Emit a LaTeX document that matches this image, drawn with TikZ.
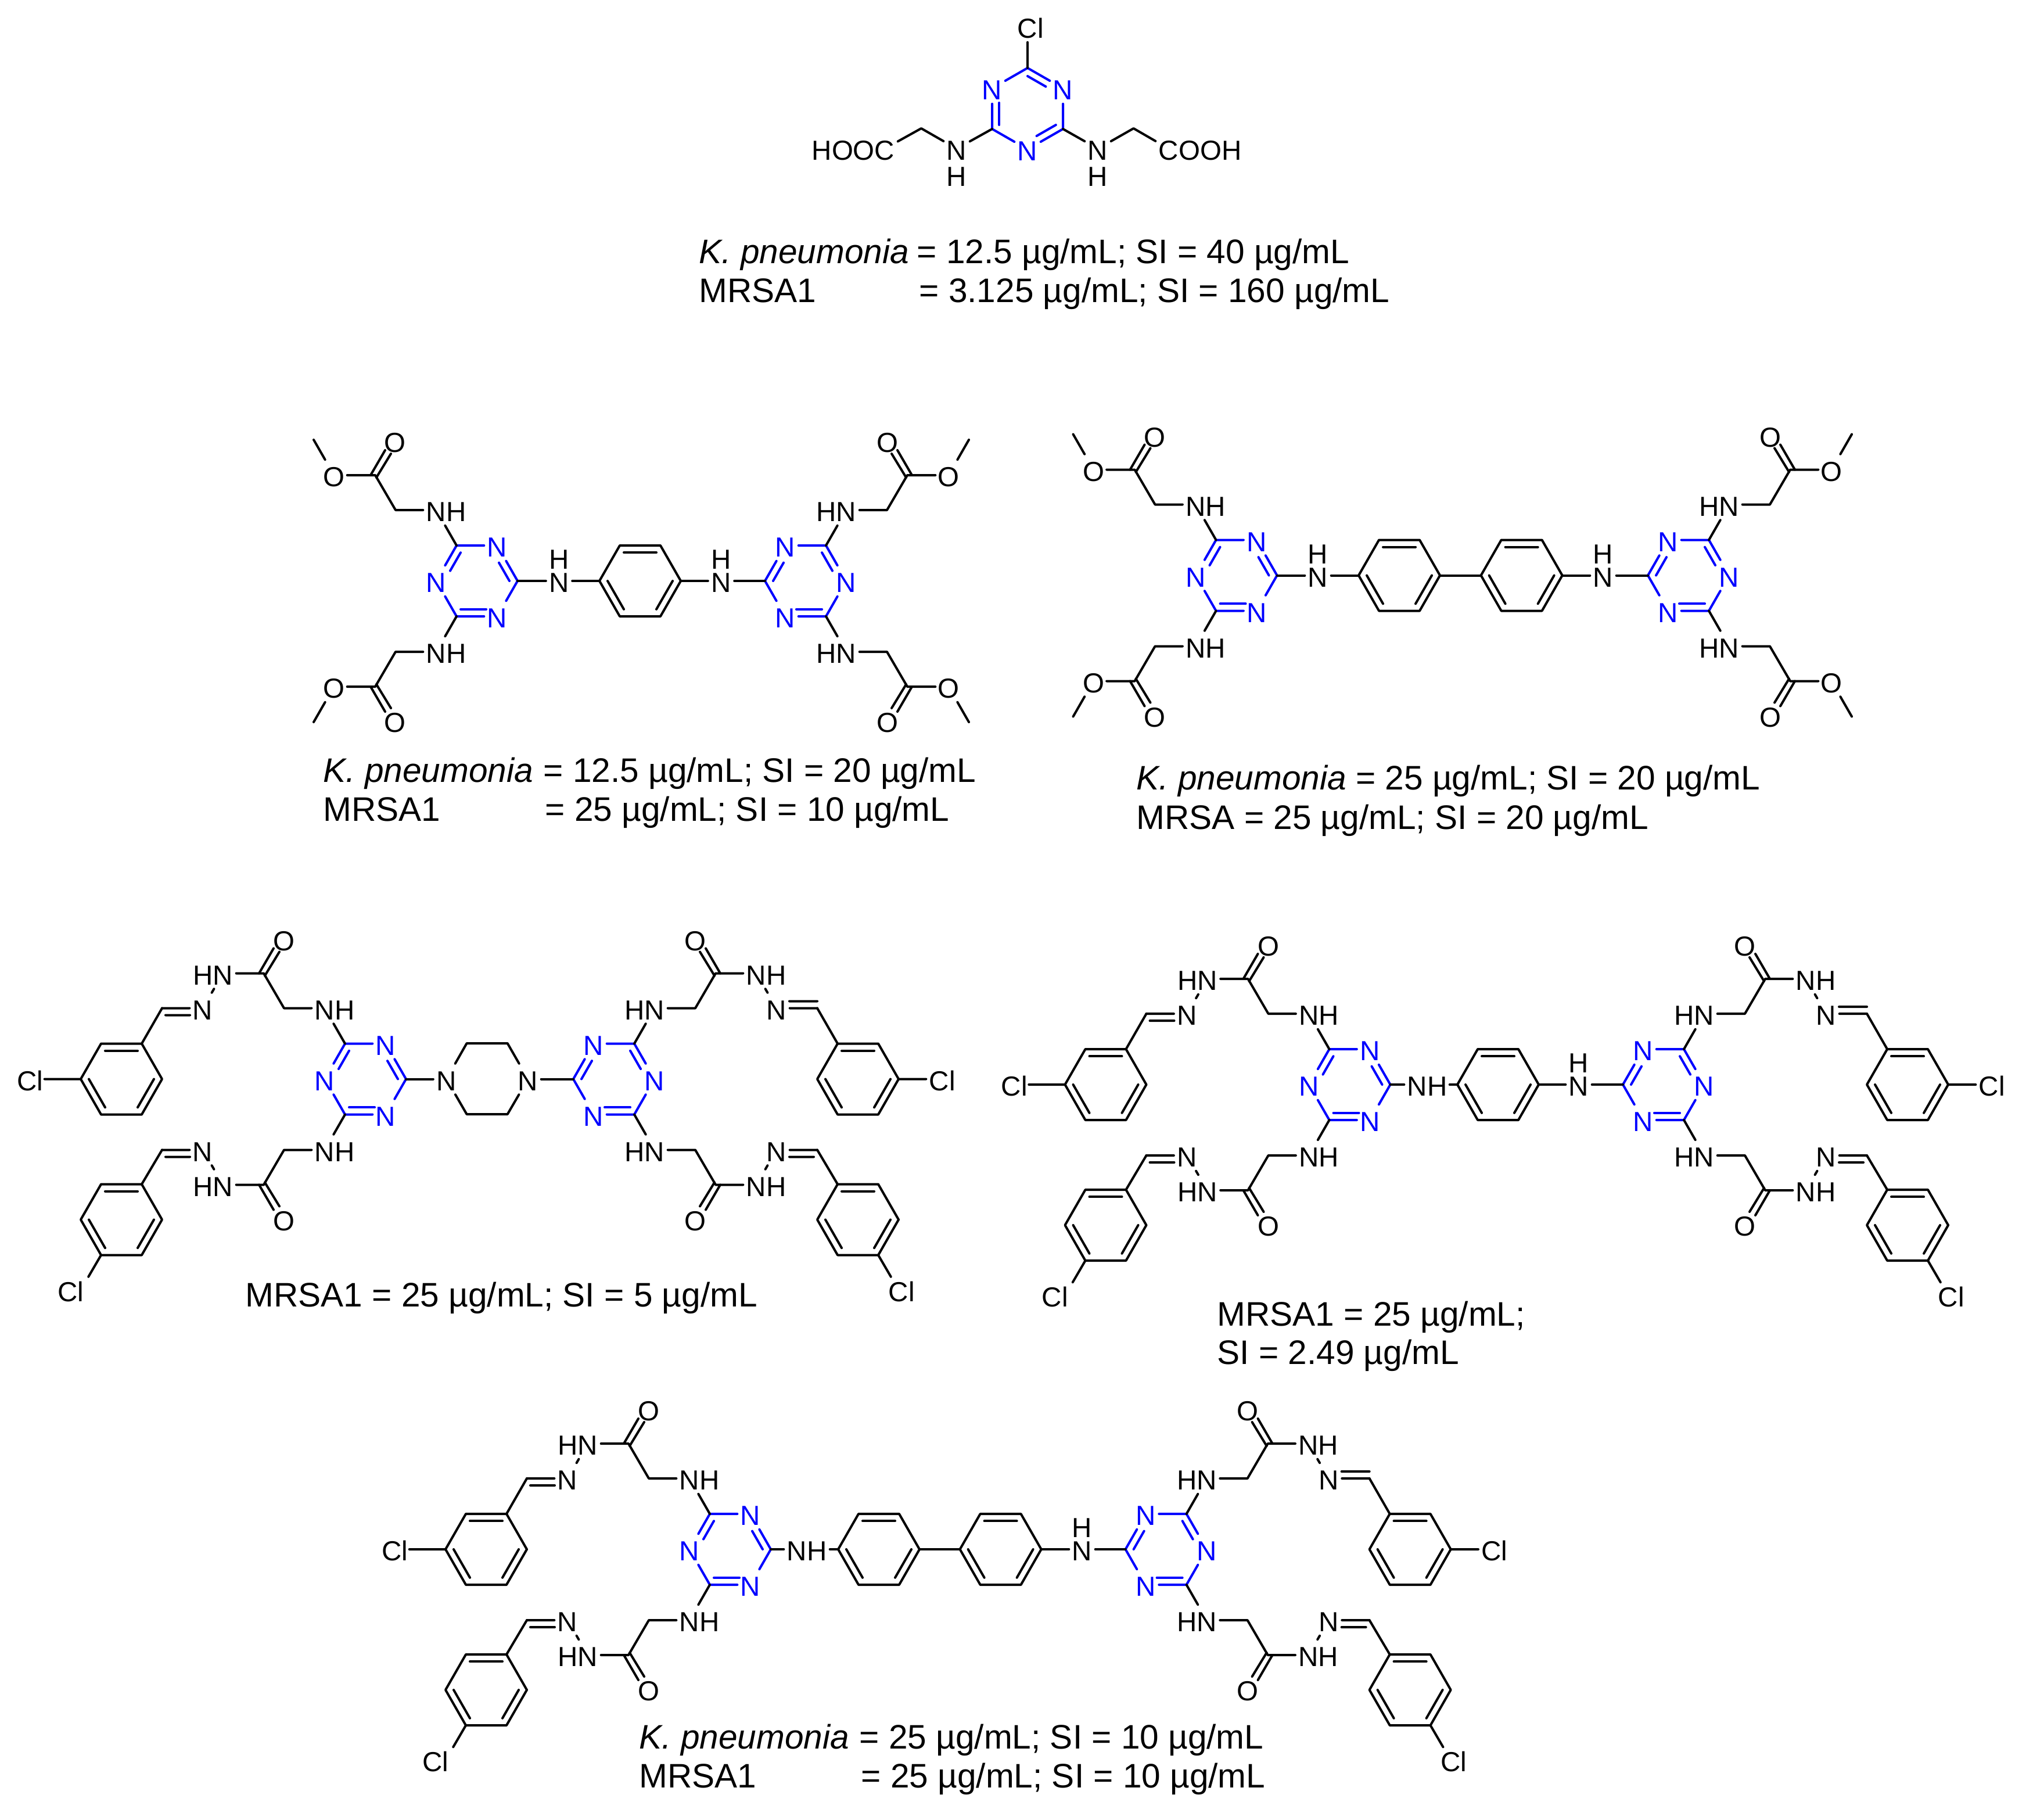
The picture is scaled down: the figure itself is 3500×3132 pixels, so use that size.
\documentclass[tikz,border=0pt]{standalone}
\usepackage{fontspec}
\setmainfont{Liberation Sans}
\usetikzlibrary{calc}
\definecolor{ringblue}{RGB}{0,0,255}
\newcommand\lab[3]{\setbox0\hbox{#2}\hbox to 0pt{\kern-.5\wd0\llap{#1}\copy0\rlap{#3}\hss}}
\newcommand\Nup{\lab{}{N}{}\hbox to 0pt{\hss\raise 11.38pt\hbox{H}\hss}}
\newcommand\Ndown{\lab{}{N}{}\hbox to 0pt{\hss\lower 12.8pt\hbox{H}\hss}}
\tikzset{
  bond/.style={line width=1.14pt,line cap=round,line join=round,black},
  rbond/.style={line width=1.14pt,line cap=round,line join=round,ringblue},
  atom/.style={rectangle,inner sep=0pt,minimum width=12.5pt,minimum height=14.8pt,text height=11.1pt,text depth=0pt,font=\fontsize{13.5}{16}\selectfont},
  batom/.style={atom,text=ringblue},
  clatom/.style={atom,minimum height=12.5pt},
  clsmall/.style={atom,minimum width=4pt},
  captext/.style={anchor=base west,inner sep=0pt,font=\fontsize{16.65}{20}\selectfont},
}
% benzene ring: prefix, centre x, centre y
\newcommand\benz[3]{\begin{scope}[shift={({#2},{#3})}]
  \coordinate (#1c) at (0,0);
  \coordinate (#11) at (-35,-61);\coordinate (#12) at (35,-61);\coordinate (#13) at (70,0);
  \coordinate (#14) at (35,61);\coordinate (#15) at (-35,61);\coordinate (#16) at (-70,0);
  \draw[bond] (#11)--(#12)--(#13)--(#14)--(#15)--(#16)--cycle;
  \draw[bond] ($(#1c)!.8!(#11)$)--($(#1c)!.8!(#12)$);
  \draw[bond] ($(#1c)!.8!(#16)$)--($(#1c)!.8!(#15)$);
  \draw[bond] ($(#1c)!.8!(#13)$)--($(#1c)!.8!(#14)$);
\end{scope}}
% triazine ring: prefix, centre x, centre y, x mirror
\newcommand\triaz[4]{\begin{scope}[shift={(#2,#3)},xscale=#4]
  \coordinate (#1c) at (0,0);
  \coordinate (#11) at (-35,-61);\node[batom] (#12) at (35,-61) {N};\coordinate (#13) at (70,0);
  \node[batom] (#14) at (35,61) {N};\coordinate (#15) at (-35,61);\node[batom] (#16) at (-70,0) {N};
  \draw[rbond] (#11)--(#12) (#13)--(#14) (#15)--(#16) (#11)--(#16) (#13)--(#12) (#15)--(#14);
  \draw[rbond,shorten >=5.7pt] ($(#1c)!.8!(#11)$)--($(#1c)!.8!(#16)$);
  \draw[rbond,shorten >=5.7pt] ($(#1c)!.8!(#13)$)--($(#1c)!.8!(#12)$);
  \draw[rbond,shorten >=3.4pt] ($(#1c)!.8!(#15)$)--($(#1c)!.8!(#14)$);
\end{scope}}
% glycine ester arm
\newcommand\estarm[5]{\begin{scope}[shift={(#1,#2)},xscale=#3,yscale=#4]
  \coordinate (r) at (-35,-61);
  \node[atom] (nh) at (-70,-122) {#5};
  \coordinate (c2) at (-140,-122);
  \coordinate (co) at (-175,-182);
  \node[atom] (ox) at (-141,-241) {O};
  \node[atom] (oe) at (-246,-182) {O};
  \coordinate (mt) at (-281,-243);
  \coordinate (k1) at (-183,-182);\coordinate (k2) at (-158,-225);
  \coordinate (k3) at (-173,-178);\coordinate (k4) at (-148,-219);
  \draw[bond] (r)--(nh)--(c2)--(co)--(oe)--(mt);
  \draw[bond] (k1)--(k2) (k3)--(k4);
\end{scope}}
\newcommand\estfour[3]{%
  \estarm{#1}{#3}{1}{1}{\lab{}{N}{H}}
  \estarm{#1}{#3}{1}{-1}{\lab{}{N}{H}}
  \estarm{#2}{#3}{-1}{1}{\lab{H}{N}{}}
  \estarm{#2}{#3}{-1}{-1}{\lab{H}{N}{}}
}
% hydrazone arm up to the CH carbon
\newcommand\hydcore[8]{\begin{scope}[shift={(#1,#2)},xscale=#3,yscale=#4]
  \coordinate (r) at (-35,-61);
  \node[atom] (nh) at (-70,-122) {#5};
  \coordinate (c2) at (-140,-122);
  \coordinate (co) at (-175,-182);
  \node[atom] (ox) at (-140,-241) {O};
  \node[atom] (hn) at (-245,-182) {#6};
  \node[atom] (nq) at (-280,-122) {N};
  \coordinate (ch2) at (-350,-122);
  \coordinate (k1) at (-183,-182);\coordinate (k2) at (-158,-225);
  \coordinate (k3) at (-173,-178);\coordinate (k4) at (-148,-219);
  \coordinate (i1) at ({-350+#8},{-122+#7});\coordinate (i2) at (-302,{-122+#7});
  \draw[bond] (r)--(nh)--(c2)--(co)--(hn)--(nq)--(ch2);
  \draw[bond] (k1)--(k2) (k3)--(k4) (i1)--(i2);
\end{scope}}
\newcommand\hydfour[3]{%
  \hydcore{#1}{#3}{1}{1}{\lab{}{N}{H}}{\lab{H}{N}{}}{12}{6}
  \benz{A}{#1-420}{#3}
  \node[clsmall] (cla) at ({#1-560},{#3}) {\lab{C}{l}{}};
  \draw[bond] (ch2)--(A2) (A6)--(cla);
  \hydcore{#1}{#3}{1}{-1}{\lab{}{N}{H}}{\lab{H}{N}{}}{-12}{6}
  \benz{A}{#1-420}{#3+242}
  \node[clatom] (cla) at ({#1-490},{#3+363}) {\lab{C}{l}{}};
  \draw[bond] (ch2)--(A2) (A5)--(cla);
  \hydcore{#2}{#3}{-1}{1}{\lab{H}{N}{}}{\lab{}{N}{H}}{-12}{0}
  \benz{A}{#2+420}{#3}
  \node[atom] (cla) at ({#2+560},{#3}) {\lab{}{C}{l}};
  \draw[bond] (ch2)--(A1) (A3)--(cla);
  \hydcore{#2}{#3}{-1}{-1}{\lab{H}{N}{}}{\lab{}{N}{H}}{-12}{6}
  \benz{A}{#2+420}{#3+242}
  \node[clatom] (cla) at ({#2+490},{#3+363}) {\lab{}{C}{l}};
  \draw[bond] (ch2)--(A1) (A4)--(cla);
}
\begin{document}
\begin{tikzpicture}[x=0.01cm,y=-0.01cm]
\fill[white] (0,0) rectangle (3500,3132);
\useasboundingbox (0,0) rectangle (3500,3132);

% ---------- molecule 1
\coordinate (mc) at (1769,187);
\coordinate (ma) at (1769,117);
\node[batom] (mb) at (1830,152) {N};
\coordinate (mcc) at (1830,222);
\node[batom] (md) at (1769,257) {N};
\coordinate (mee) at (1708,222);
\node[batom] (mf) at (1708,152) {N};
\draw[rbond] (ma)--(mb) (mcc)--(mb) (mcc)--(md) (mee)--(md) (mee)--(mf) (ma)--(mf);
\draw[rbond,shorten >=5.7pt] ($(mc)!.8!(ma)$)--($(mc)!.8!(mb)$);
\draw[rbond,shorten >=5.1pt] ($(mc)!.8!(mcc)$)--($(mc)!.8!(md)$);
\draw[rbond,shorten >=5.1pt] ($(mc)!.8!(mee)$)--($(mc)!.8!(mf)$);
\node[atom] (mcl) at (1769,46) {\lab{}{C}{l}};
\draw[bond] (ma)--(mcl);
\node[atom] (mnl) at (1647,256) {\Ndown};
\coordinate (mch1) at (1586,221);
\node[atom] (mco1) at (1523,256) {\lab{HOO}{C}{}};
\draw[bond] (mee)--(mnl)--(mch1)--(mco1);
\node[atom] (mnr) at (1890,256) {\Ndown};
\coordinate (mch2) at (1951.5,221);
\node[atom] (mco2) at (2012,256) {\lab{}{C}{OOH}};
\draw[bond] (mcc)--(mnr)--(mch2)--(mco2);
\node[captext] (t1a) at (1203,453.6) {\itshape K. pneumonia};
\node[captext] (t1b) at (1578,453.6) {= 12.5 µg/mL; SI = 40 µg/mL};
\node[captext] (t1c) at (1203,520.7) {MRSA1};
\node[captext] (t1d) at (1582,520.7) {= 3.125 µg/mL; SI = 160 µg/mL};

% ---------- molecule 2
\triaz{L}{821}{1000}{1}
\triaz{R}{1387}{1000}{-1}
\estfour{821}{1387}{1000}
\benz{B}{1102}{1000}
\node[atom] (n2a) at (962.5,1000) {\Nup};
\node[atom] (n2b) at (1241.5,1000) {\Nup};
\draw[bond] (L3)--(n2a)--(B6) (B3)--(n2b)--(R3);
\node[captext] (t2a) at (556,1346) {\itshape K. pneumonia};
\node[captext] (t2b) at (935,1346) {= 12.5 µg/mL; SI = 20 µg/mL};
\node[captext] (t2c) at (556,1413) {MRSA1};
\node[captext] (t2d) at (938,1413) {= 25 µg/mL; SI = 10 µg/mL};

% ---------- molecule 3
\triaz{L}{2128.5}{990.5}{1}
\triaz{R}{2907}{990.5}{-1}
\estfour{2128.5}{2907}{990.5}
\benz{B}{2409}{990.5}
\benz{C}{2619.6}{990.5}
\node[atom] (n3a) at (2269,990.5) {\Nup};
\node[atom] (n3b) at (2760,990.5) {\Nup};
\draw[bond] (L3)--(n3a)--(B6) (B3)--(C6) (C3)--(n3b)--(R3);
\node[captext] (t3a) at (1956,1359) {{\itshape K. pneumonia} = 25 µg/mL; SI = 20 µg/mL};
\node[captext] (t3b) at (1956,1427) {MRSA = 25 µg/mL; SI = 20 µg/mL};

% ---------- molecule 4
\triaz{L}{629}{1857.5}{1}
\triaz{R}{1057}{1857.5}{-1}
\hydfour{629}{1057}{1857.5}
\node[atom] (p1) at (768.5,1857.5) {N};
\node[atom] (p2) at (909,1857.5) {N};
\coordinate (p3) at (803.5,1796);\coordinate (p4) at (873.7,1796);
\coordinate (p5) at (873.7,1918);\coordinate (p6) at (803.5,1918);
\draw[bond] (p1)--(p3)--(p4)--(p2)--(p5)--(p6)--(p1);
\draw[bond] (L3)--(p1) (p2)--(R3);
\node[captext] (t4a) at (422,2249.4) {MRSA1 = 25 µg/mL; SI = 5 µg/mL};

% ---------- molecule 5
\triaz{L}{2323.5}{1867}{1}
\triaz{R}{2864}{1867}{-1}
\hydfour{2323.5}{2864}{1867}
\benz{B}{2579}{1867}
\node[atom] (n5a) at (2440,1867) {\lab{}{N}{H}};
\node[atom] (h5a) at (2473,1867) {};
\node[atom] (n5b) at (2718,1867) {\Nup};
\draw[bond] (L3)--(n5a) (h5a)--(B6) (B3)--(n5b)--(R3);
\node[captext] (t5a) at (2095,2282) {MRSA1 = 25 µg/mL;};
\node[captext] (t5b) at (2095,2348) {SI = 2.49 µg/mL};

% ---------- molecule 6
\triaz{L}{1257}{2667}{1}
\triaz{R}{2007.6}{2667}{-1}
\hydfour{1257}{2007.6}{2667}
\benz{B}{1513}{2667}
\benz{C}{1722.6}{2667}
\node[atom] (n6a) at (1372,2667) {\lab{}{N}{H}};
\node[atom] (h6a) at (1406,2667) {};
\node[atom] (n6b) at (1863,2667) {\Nup};
\draw[bond] (L3)--(n6a) (h6a)--(B6) (B3)--(C6) (C3)--(n6b)--(R3);
\node[captext] (t6a) at (1100,3010.6) {\itshape K. pneumonia};
\node[captext] (t6b) at (1479,3010.6) {= 25 µg/mL; SI = 10 µg/mL};
\node[captext] (t6c) at (1100,3077.6) {MRSA1};
\node[captext] (t6d) at (1482,3077.6) {= 25 µg/mL; SI = 10 µg/mL};
\end{tikzpicture}
\end{document}
